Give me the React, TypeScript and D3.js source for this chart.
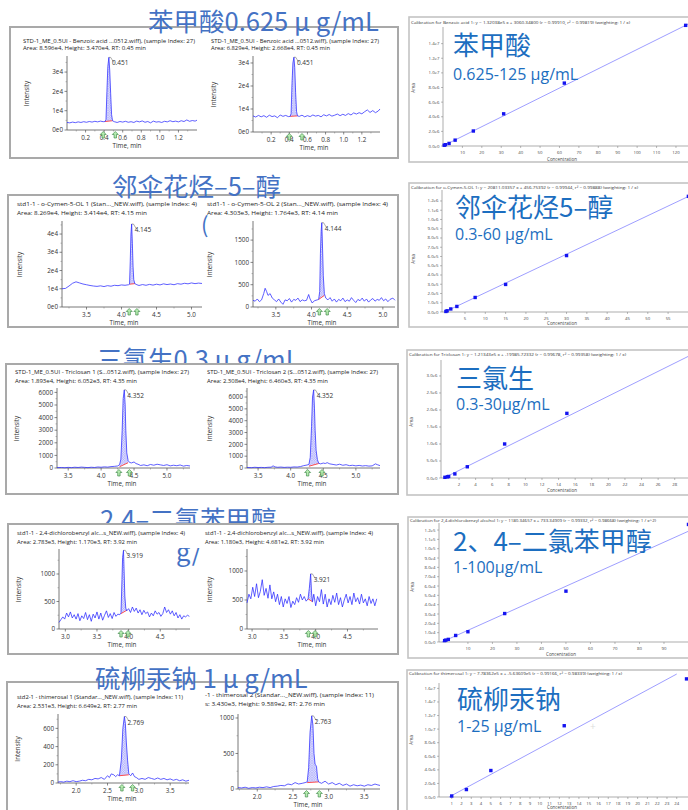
import React from "react";
import * as d3 from "d3";

type Pt = [number, number];

// ---------------- Text content ----------------
const leftTitles = ["苯甲酸0.625 μ g/mL", "邻伞花烃–5–醇", "三氯生0.3 μ g/mL", "2.4–二氯苯甲醇", "硫柳汞钠 1 μ g/mL"];
const calNames = ["苯甲酸", "邻伞花烃5–醇", "三氯生", "2、4–二氯苯甲醇", "硫柳汞钠"];
const calRanges = ["0.625-125 μg/mL", "0.3-60 μg/mL", "0.3-30μg/mL", "1-100μg/mL", "1-25 μg/mL"];

const chromHeader1 = [
  "STD-1_ME_0.5UI - Benzoic acid ...0512.wiff), (sample Index: 27)",
  "STD-1_ME_0.5UI - Benzoic acid ...0512.wiff), (sample Index: 27)",
  "std1-1 - o-Cymen-5-OL 1 (Stan..._NEW.wiff), (sample Index: 4)",
  "std1-1 - o-Cymen-5-OL 2 (Stan..._NEW.wiff), (sample Index: 4)",
  "STD-1_ME_0.5UI - Triclosan 1 (S...0512.wiff), (sample Index: 27)",
  "STD-1_ME_0.5UI - Triclosan 2 (S...0512.wiff), (sample Index: 27)",
  "std1-1 - 2,4-dichlorobenzyl alc...s_NEW.wiff), (sample Index: 4)",
  "std1-1 - 2,4-dichlorobenzyl alc...s_NEW.wiff), (sample Index: 4)",
  "std2-1 - thimerosal 1 (Standar..._NEW.wiff), (sample Index: 11)",
  "-1 - thimerosal 2 (Standar..._NEW.wiff), (sample Index: 11)",
];
const chromHeader2 = [
  "Area: 8.596e4, Height: 3.470e4, RT: 0.45 min",
  "Area: 6.829e4, Height: 2.668e4, RT: 0.45 min",
  "Area: 8.269e4, Height: 3.414e4, RT: 4.15 min",
  "Area: 4.303e3, Height: 1.764e3, RT: 4.14 min",
  "Area: 1.893e4, Height: 6.052e3, RT: 4.35 min",
  "Area: 2.308e4, Height: 6.460e3, RT: 4.35 min",
  "Area: 2.783e3, Height: 1.170e3, RT: 3.92 min",
  "Area: 1.180e3, Height: 4.681e2, RT: 3.92 min",
  "Area: 2.531e3, Height: 6.649e2, RT: 2.77 min",
  "s: 3.430e3, Height: 9.589e2, RT: 2.76 min",
];
const peakLabels = ["0.451", "0.451", "4.145", "4.144", "4.352", "4.352", "3.919", "3.921", "2.769", "2.763"];

const calHeaders = [
  "Calibration for Benzoic acid 1: y = 1.32038e5 x + 3060.34800 (r = 0.99910, r² = 0.99819)  (weighting: 1 / x)",
  "Calibration for o-Cymen-5-OL 1: y = 20811.03357 x + 456.75392 (r = 0.99944, r² = 0.99888)  (weighting: 1 / x)",
  "Calibration for Triclosan 1: y = 1.21343e5 x + -19985.72332 (r = 0.99678, r² = 0.99358)  (weighting: 1 / x)",
  "Calibration for 2,4-dichlorobenzyl alcohol 1: y = 1180.34657 x + 733.34909 (r = 0.99332, r² = 0.98668)  (weighting: 1 / x^2)",
  "Calibration for thimerosal 1: y = 7.78362e5 x + -5.63609e5 (r = 0.99166, r² = 0.98339)  (weighting: 1 / x)",
];

// ---------------- Chromatogram data (time, intensity) ----------------
const benzoicChrom1: Pt[] = [[0.00,3900],[0.03,3700],[0.06,4100],[0.09,3800],[0.12,4200],[0.15,3900],[0.18,4300],[0.21,4000],[0.24,4400],[0.27,4100],[0.30,4500],[0.33,4200],[0.36,4600],[0.39,4300],[0.41,4400],[0.42,5500],[0.43,20000],[0.44,33000],[0.451,37600],[0.46,31000],[0.47,19000],[0.48,8000],[0.49,4800],[0.51,4300],[0.54,3900],[0.57,4400],[0.60,4100],[0.63,4500],[0.66,4000],[0.69,4300],[0.72,3900],[0.75,4600],[0.78,4200],[0.81,4700],[0.84,4000],[0.87,4400],[0.90,3700],[0.93,4600],[0.96,4100],[0.99,4300],[1.02,3900],[1.05,4500],[1.08,4200],[1.11,4800],[1.14,4300],[1.17,4600],[1.20,4200],[1.23,4800],[1.26,4400],[1.29,5200],[1.32,4500],[1.35,4900],[1.38,4600],[1.40,5100]];
const benzoicChrom2: Pt[] = [[0.00,7000],[0.03,6500],[0.06,7200],[0.09,6600],[0.12,7100],[0.15,6400],[0.18,7300],[0.21,6700],[0.24,7000],[0.27,6200],[0.30,7400],[0.33,6800],[0.36,7200],[0.39,6700],[0.41,6800],[0.42,8000],[0.43,21000],[0.44,30000],[0.451,32500],[0.46,28000],[0.47,17000],[0.48,9000],[0.49,7000],[0.51,6800],[0.54,7300],[0.57,6600],[0.60,7100],[0.63,6700],[0.66,7400],[0.69,6900],[0.72,7200],[0.75,6600],[0.78,7500],[0.81,7000],[0.84,7600],[0.87,6900],[0.90,7300],[0.93,7800],[0.96,7100],[0.99,7700],[1.02,7200],[1.05,8000],[1.08,7400],[1.11,8300],[1.14,7800],[1.17,8400],[1.20,7900],[1.23,8800],[1.26,9600],[1.29,8500],[1.32,9300],[1.35,8400],[1.38,9100],[1.40,10000]];
const cymenolChrom1: Pt[] = [[3.15,10000],[3.20,10200],[3.25,11500],[3.30,13000],[3.35,13800],[3.40,13200],[3.45,12600],[3.50,12200],[3.55,11800],[3.60,11500],[3.65,11300],[3.70,11600],[3.75,11200],[3.80,11700],[3.85,11400],[3.90,11900],[3.95,11700],[4.00,12100],[4.05,11900],[4.10,12200],[4.115,12500],[4.125,25000],[4.135,40000],[4.145,45500],[4.155,35000],[4.165,22000],[4.175,15000],[4.19,12800],[4.22,12200],[4.25,11800],[4.30,12300],[4.35,11900],[4.40,12400],[4.45,12000],[4.50,12500],[4.55,12100],[4.60,12700],[4.65,12300],[4.70,12600],[4.75,12200],[4.80,12800],[4.85,12500],[4.90,13000],[4.95,12700],[5.00,13200],[5.05,12800],[5.10,13100],[5.15,12900]];
const cymenolChrom2: Pt[] = [[3.18,150],[3.21,130],[3.24,180],[3.27,120],[3.30,160],[3.33,300],[3.35,420],[3.37,350],[3.39,260],[3.42,300],[3.45,200],[3.48,160],[3.51,120],[3.54,180],[3.57,110],[3.60,60],[3.63,160],[3.66,140],[3.69,190],[3.72,110],[3.75,170],[3.78,150],[3.81,200],[3.84,120],[3.87,160],[3.90,140],[3.93,150],[3.96,280],[3.98,180],[4.01,90],[4.04,140],[4.08,160],[4.10,170],[4.115,350],[4.125,1200],[4.135,1700],[4.144,1890],[4.155,1300],[4.165,700],[4.18,300],[4.20,200],[4.23,160],[4.26,210],[4.29,130],[4.32,180],[4.35,110],[4.38,170],[4.41,140],[4.44,200],[4.47,120],[4.50,160],[4.53,130],[4.56,210],[4.59,150],[4.62,100],[4.65,170],[4.68,140],[4.71,200],[4.74,130],[4.77,180],[4.80,110],[4.83,160],[4.86,190],[4.89,130],[4.92,170],[4.95,150],[4.98,210],[5.01,140],[5.04,180],[5.07,120],[5.10,170],[5.14,200],[5.17,150]];
const triclosanChrom1: Pt[] = [[3.33,30],[3.40,40],[3.45,20],[3.50,50],[3.55,30],[3.60,60],[3.65,40],[3.70,70],[3.75,50],[3.80,30],[3.85,60],[3.90,40],[3.95,80],[4.00,60],[4.05,90],[4.10,70],[4.15,110],[4.20,130],[4.25,160],[4.28,250],[4.30,700],[4.32,3000],[4.335,5500],[4.352,6200],[4.365,5000],[4.375,3000],[4.39,1200],[4.41,600],[4.43,450],[4.46,400],[4.50,480],[4.53,350],[4.56,300],[4.60,200],[4.65,250],[4.70,180],[4.75,280],[4.80,220],[4.85,300],[4.90,250],[4.95,200],[5.00,260],[5.05,170],[5.10,220],[5.15,180],[5.20,240],[5.25,150],[5.30,200],[5.35,160]];
const triclosanChrom2: Pt[] = [[3.33,40],[3.40,30],[3.45,60],[3.50,40],[3.55,50],[3.60,30],[3.65,60],[3.70,70],[3.73,180],[3.76,90],[3.80,60],[3.85,80],[3.90,50],[3.95,70],[4.00,60],[4.05,90],[4.10,80],[4.15,120],[4.20,200],[4.25,250],[4.28,300],[4.30,900],[4.32,3500],[4.335,6000],[4.352,6600],[4.365,5000],[4.375,3200],[4.39,1500],[4.41,700],[4.43,400],[4.46,350],[4.50,420],[4.53,380],[4.56,450],[4.60,350],[4.65,300],[4.70,250],[4.75,320],[4.80,230],[4.85,280],[4.90,200],[4.95,230],[5.00,180],[5.05,220],[5.10,170],[5.15,200],[5.20,160],[5.25,180],[5.30,350],[5.33,280],[5.37,200]];
const dcbaChrom1: Pt[] = [[2.90,120],[2.93,170],[2.96,220],[2.99,180],[3.02,290],[3.05,220],[3.08,310],[3.11,200],[3.14,260],[3.17,180],[3.20,280],[3.23,150],[3.26,240],[3.29,190],[3.32,300],[3.35,170],[3.38,260],[3.41,140],[3.44,270],[3.47,200],[3.50,310],[3.53,180],[3.56,290],[3.59,160],[3.62,250],[3.65,330],[3.68,210],[3.71,280],[3.74,190],[3.77,300],[3.80,230],[3.83,270],[3.86,260],[3.88,300],[3.895,900],[3.905,1300],[3.919,1430],[3.93,1000],[3.94,600],[3.955,380],[3.97,330],[4.00,370],[4.03,300],[4.06,400],[4.09,320],[4.12,380],[4.15,290],[4.18,350],[4.21,260],[4.24,340],[4.27,280],[4.30,310],[4.33,220],[4.36,290],[4.39,240],[4.42,330],[4.45,270],[4.48,300],[4.51,230],[4.54,280],[4.57,400],[4.60,300],[4.63,350],[4.66,270],[4.69,330],[4.72,240],[4.75,300],[4.78,200],[4.81,260],[4.84,180],[4.87,240],[4.90,220],[4.93,250],[4.96,230]];
const dcbaChrom2: Pt[] = [[2.92,450],[2.95,600],[2.98,520],[3.01,720],[3.04,560],[3.07,780],[3.10,540],[3.13,650],[3.16,850],[3.19,580],[3.22,700],[3.25,530],[3.28,760],[3.31,520],[3.34,640],[3.37,470],[3.40,600],[3.43,420],[3.46,560],[3.49,380],[3.52,520],[3.55,440],[3.58,560],[3.61,370],[3.64,480],[3.67,420],[3.70,540],[3.73,460],[3.76,600],[3.79,500],[3.82,560],[3.85,480],[3.88,520],[3.90,700],[3.921,950],[3.935,620],[3.95,470],[3.97,600],[4.00,400],[4.03,560],[4.06,470],[4.09,680],[4.12,430],[4.15,600],[4.18,380],[4.21,520],[4.24,420],[4.27,580],[4.30,460],[4.33,620],[4.36,420],[4.39,540],[4.42,380],[4.45,500],[4.48,600],[4.51,450],[4.54,560],[4.57,420],[4.60,620],[4.63,470],[4.66,540],[4.69,430],[4.72,600],[4.75,450],[4.78,520],[4.81,400],[4.84,560],[4.87,440],[4.90,520],[4.93,400],[4.96,520]];
const thimerosalChrom1: Pt[] = [[1.71,10],[1.75,15],[1.80,10],[1.85,20],[1.90,15],[1.95,25],[2.00,15],[2.05,20],[2.10,30],[2.15,25],[2.20,40],[2.25,35],[2.30,50],[2.35,45],[2.40,60],[2.45,40],[2.50,80],[2.53,60],[2.56,100],[2.60,90],[2.63,70],[2.66,90],[2.69,80],[2.72,250],[2.745,600],[2.769,730],[2.785,650],[2.80,450],[2.82,250],[2.84,100],[2.87,80],[2.90,110],[2.93,70],[2.96,60],[3.00,40],[3.05,50],[3.10,40],[3.15,60],[3.20,50],[3.25,40],[3.30,55],[3.35,40],[3.40,50],[3.45,35],[3.50,45],[3.55,30],[3.60,40],[3.65,25],[3.70,35],[3.75,20],[3.80,30]];
const thimerosalChrom2: Pt[] = [[1.73,20],[1.78,15],[1.83,25],[1.88,10],[1.93,20],[1.98,15],[2.03,25],[2.08,20],[2.13,30],[2.18,20],[2.23,35],[2.28,40],[2.33,50],[2.38,45],[2.43,70],[2.48,60],[2.53,90],[2.58,70],[2.63,80],[2.67,90],[2.70,100],[2.72,300],[2.74,800],[2.763,1030],[2.78,900],[2.795,500],[2.81,350],[2.83,320],[2.845,150],[2.86,100],[2.90,80],[2.95,110],[3.00,70],[3.05,90],[3.10,60],[3.15,80],[3.20,50],[3.25,70],[3.30,40],[3.35,60],[3.40,45],[3.45,55],[3.50,40],[3.55,60],[3.60,50],[3.65,70],[3.68,60],[3.72,50]];

// ---------------- Calibration data ----------------
const benzoicConc = [0.625, 1.25, 3.125, 6.25, 15.625, 31.25, 62.5, 125];
const benzoicArea = [1.0e5, 1.8e5, 3.5e5, 8.0e5, 2.05e6, 4.4e6, 8.6e6, 1.65e7];
const cymenolConc = [0.3, 0.6, 1.5, 3, 7.5, 15, 30, 60];
const cymenolArea = [6.0e3, 1.3e4, 3.3e4, 6.0e4, 1.57e5, 2.98e5, 6.1e5, 1.25e6];
const triclosanConc = [0.3, 0.6, 0.75, 1.5, 3, 7.5, 15, 30];
const triclosanArea = [2.0e4, 3.5e4, 4.5e4, 1.2e5, 3.3e5, 1.0e6, 1.9e6, 3.6e6];
const dcbaConc = [0.5, 1, 2, 5, 10, 25, 50, 100];
const dcbaArea = [1.5e3, 2.0e3, 2.8e3, 7.0e3, 1.1e4, 3.05e4, 5.45e4, 1.26e5];
const thimerosalConc = [1, 2.5, 5, 12.5, 25];
const thimerosalArea = [1.5e5, 1.1e6, 3.9e6, 1.05e7, 1.74e7];
const calSlopes = [1.32038e5, 20811.03357, 1.21343e5, 1180.34657, 7.78362e5];
const calIntercepts = [3060.348, 456.75392, -19985.72332, 733.34909, -5.63609e5];

// ---------------- Styles ----------------
const W = 688, H = 810;
const SANS = "'Open Sans', 'DejaVu Sans', sans-serif";
const CJK = "'Noto Sans CJK SC', 'Noto Sans', sans-serif";
const TITLE_BLUE = "#4472c4";
const OVER_BLUE = "#1c6ec0";

const fmtE = (v: number) => {
  if (v === 0) return "0e0";
  const e = Math.floor(Math.log10(v));
  return `${Math.round(v / Math.pow(10, e))}e${e}`;
};
const fmtInt = (v: number) => String(v);
const fmtCal = (v: number) => d3.format(".1e")(v).replace("+", "");

interface ChromCfg {
  data: Pt[];
  idx: number;
  hx: number; hy1: number; hy2: number; hw1: number; hw2: number;
  x0: number; x1: number; yTop: number; yBot: number;
  xDomain: [number, number]; yDomain: [number, number];
  yTicks: number[]; xTicks: number[]; yFmt: (v: number) => string;
  xLabelX: number; yLabelX?: number;
  intStart: number; intEnd: number; baseStart: number; baseEnd: number;
  arrows: number[];
}

const chromCfgs: ChromCfg[] = [
  { data: benzoicChrom1, idx: 0, hx: 23, hy1: 43, hy2: 50, hw1: 172, hw2: 123, x0: 67, x1: 197, yTop: 57, yBot: 130,
    xDomain: [0, 1.4], yDomain: [0, 37800], yTicks: [0, 1e4, 2e4, 3e4], xTicks: [0.2, 0.4, 0.6, 0.8, 1.0, 1.2], yFmt: fmtE,
    xLabelX: 127, yLabelX: 29, intStart: 0.41, intEnd: 0.49, baseStart: 4400, baseEnd: 4800, arrows: [0.39, 0.52] },
  { data: benzoicChrom2, idx: 1, hx: 211, hy1: 43, hy2: 50, hw1: 168, hw2: 119, x0: 253, x1: 380, yTop: 57, yBot: 132,
    xDomain: [0, 1.4], yDomain: [0, 32600], yTicks: [0, 1e4, 2e4, 3e4], xTicks: [0.2, 0.4, 0.6, 0.8, 1.0, 1.2], yFmt: fmtE,
    xLabelX: 314, yLabelX: 216, intStart: 0.41, intEnd: 0.49, baseStart: 6800, baseEnd: 7000, arrows: [0.40, 0.54] },
  { data: cymenolChrom1, idx: 2, hx: 17, hy1: 206, hy2: 215, hw1: 180, hw2: 130, x0: 62, x1: 202, yTop: 222, yBot: 307,
    xDomain: [3.15, 5.15], yDomain: [0, 46600], yTicks: [0, 1e4, 2e4, 3e4, 4e4], xTicks: [3.5, 4.0, 4.5, 5.0], yFmt: fmtE,
    xLabelX: 124, yLabelX: 22, intStart: 4.115, intEnd: 4.19, baseStart: 12500, baseEnd: 12800, arrows: [4.11, 4.22] },
  { data: cymenolChrom2, idx: 3, hx: 207, hy1: 206, hy2: 215, hw1: 181, hw2: 131, x0: 253, x1: 395, yTop: 222, yBot: 307,
    xDomain: [3.18, 5.17], yDomain: [0, 1906], yTicks: [0, 500, 1000, 1500], xTicks: [3.5, 4.0, 4.5, 5.0], yFmt: fmtInt,
    xLabelX: 322, yLabelX: 212, intStart: 4.10, intEnd: 4.18, baseStart: 170, baseEnd: 260, arrows: [4.11, 4.22] },
  { data: triclosanChrom1, idx: 4, hx: 15, hy1: 374, hy2: 382.5, hw1: 174, hw2: 122, x0: 57, x1: 190, yTop: 389, yBot: 468,
    xDomain: [3.33, 5.35], yDomain: [0, 6270], yTicks: [0, 1000, 2000, 3000, 4000, 5000, 6000], xTicks: [3.5, 4.0, 4.5, 5.0], yFmt: fmtInt,
    xLabelX: 122, yLabelX: 19, intStart: 4.28, intEnd: 4.41, baseStart: 100, baseEnd: 420, arrows: [4.27, 4.43] },
  { data: triclosanChrom2, idx: 5, hx: 207, hy1: 374, hy2: 382.5, hw1: 171, hw2: 121, x0: 247, x1: 380, yTop: 389, yBot: 468,
    xDomain: [3.33, 5.37], yDomain: [0, 6680], yTicks: [0, 1000, 2000, 3000, 4000, 5000, 6000], xTicks: [3.5, 4.0, 4.5, 5.0], yFmt: fmtInt,
    xLabelX: 312, yLabelX: 212, intStart: 4.28, intEnd: 4.43, baseStart: 150, baseEnd: 380, arrows: [4.26, 4.48] },
  { data: dcbaChrom1, idx: 6, hx: 17, hy1: 535, hy2: 543.5, hw1: 168, hw2: 120, x0: 59, x1: 190, yTop: 550, yBot: 629,
    xDomain: [2.9, 4.97], yDomain: [0, 1436], yTicks: [0, 500, 1000], xTicks: [3.0, 3.5, 4.0, 4.5], yFmt: fmtInt,
    xLabelX: 122, yLabelX: 21, intStart: 3.88, intEnd: 3.97, baseStart: 280, baseEnd: 340, arrows: [3.88, 3.99] },
  { data: dcbaChrom2, idx: 7, hx: 205, hy1: 535, hy2: 543.5, hw1: 168, hw2: 119, x0: 247, x1: 378, yTop: 550, yBot: 629,
    xDomain: [2.92, 4.98], yDomain: [0, 1362], yTicks: [0, 500, 1000], xTicks: [3.0, 3.5, 4.0, 4.5], yFmt: fmtInt,
    xLabelX: 312, yLabelX: 212, intStart: 3.88, intEnd: 3.95, baseStart: 520, baseEnd: 470, arrows: [3.885, 3.99] },
  { data: thimerosalChrom1, idx: 8, hx: 17, hy1: 699, hy2: 708, hw1: 166, hw2: 120, x0: 58, x1: 189, yTop: 715, yBot: 783,
    xDomain: [1.71, 3.8], yDomain: [0, 747], yTicks: [0, 200, 400, 600], xTicks: [2.0, 2.5, 3.0, 3.5], yFmt: fmtInt,
    xLabelX: 122, yLabelX: 20, intStart: 2.69, intEnd: 2.84, baseStart: 80, baseEnd: 90, arrows: [2.73, 2.90] },
  { data: thimerosalChrom2, idx: 9, hx: 205, hy1: 697, hy2: 706, hw1: 169, hw2: 120, x0: 238, x1: 380, yTop: 715, yBot: 789,
    xDomain: [1.73, 3.72], yDomain: [0, 1042], yTicks: [0, 500, 1000], xTicks: [2.0, 2.5, 3.0, 3.5], yFmt: fmtInt,
    xLabelX: 308, intStart: 2.70, intEnd: 2.86, baseStart: 90, baseEnd: 100, arrows: [2.69, 2.87] },
];

interface CalCfg {
  idx: number; conc: number[]; area: number[];
  box: [number, number, number, number];
  hx: number; hy: number; hw: number;
  x0: number; x1: number; yTop: number; yBot: number;
  xDomain: [number, number]; yDomain: [number, number];
  yTicks: number[]; xTicks: number[]; lineEnd: number;
  concX: number; concY: number; areaY: number;
  nameX: number; nameY: number; rangeY: number;
}

const calCfgs: CalCfg[] = [
  { idx: 0, conc: benzoicConc, area: benzoicArea, box: [409, 17, 290, 145], hx: 411, hy: 23.5, hw: 219,
    x0: 443, x1: 688, yTop: 29, yBot: 146, xDomain: [0, 126.2], yDomain: [0, 1.6e7],
    yTicks: d3.range(0, 1.41e7, 2e6), xTicks: d3.range(10, 121, 10), lineEnd: 126.2,
    concX: 562, concY: 161, areaY: 88, nameX: 453, nameY: 55, rangeY: 80 },
  { idx: 1, conc: cymenolConc, area: cymenolArea, box: [409, 183, 290, 144], hx: 411, hy: 188.5, hw: 227,
    x0: 442, x1: 688, yTop: 192, yBot: 312, xDomain: [-0.66, 59.9], yDomain: [0, 1.297e6],
    yTicks: d3.range(0, 1.21e6, 1e5), xTicks: d3.range(5, 56, 5), lineEnd: 59.9,
    concX: 562, concY: 325, areaY: 259, nameX: 455, nameY: 217, rangeY: 240 },
  { idx: 2, conc: triclosanConc, area: triclosanArea, box: [407, 350, 292, 145], hx: 409, hy: 356, hw: 217,
    x0: 441, x1: 688, yTop: 362, yBot: 478, xDomain: [-0.17, 29.6], yDomain: [0, 3.41e6],
    yTicks: d3.range(0, 3.01e6, 5e5), xTicks: d3.range(2, 29, 2), lineEnd: 29.6,
    concX: 562, concY: 492, areaY: 422, nameX: 456, nameY: 388, rangeY: 410 },
  { idx: 3, conc: dcbaConc, area: dcbaArea, box: [408, 517, 291, 141], hx: 410, hy: 522, hw: 246,
    x0: 439, x1: 688, yTop: 525, yBot: 642, xDomain: [-1.8, 99.8], yDomain: [0, 1.254e5],
    yTicks: d3.range(0, 1.21e5, 1e4), xTicks: d3.range(10, 91, 10), lineEnd: 99.8,
    concX: 561, concY: 656, areaY: 587, nameX: 453, nameY: 551, rangeY: 573 },
  { idx: 4, conc: thimerosalConc, area: thimerosalArea, box: [407, 670, 292, 160], hx: 409, hy: 675, hw: 213,
    x0: 439, x1: 688, yTop: 685, yBot: 797, xDomain: [-0.3, 25.15], yDomain: [0, 1.65e7],
    yTicks: d3.range(0, 1.61e7, 2e6), xTicks: d3.range(1, 25, 1), lineEnd: 24,
    concX: 562, concY: 809, areaY: 740, nameX: 457, nameY: 709, rangeY: 732 },
];

// ---------------- Components ----------------
function Chromatogram({ c }: { c: ChromCfg }) {
  const x = d3.scaleLinear().domain(c.xDomain).range([c.x0, c.x1]);
  const y = d3.scaleLinear().domain(c.yDomain).range([c.yBot, c.yTop]);
  const line = d3.line<Pt>().x(d => x(d[0])).y(d => y(d[1]));
  const base = (t: number) => c.baseStart + ((t - c.intStart) / (c.intEnd - c.intStart)) * (c.baseEnd - c.baseStart);
  const peak = c.data.filter(d => d[0] >= c.intStart - 1e-9 && d[0] <= c.intEnd + 1e-9);
  const area = d3.area<Pt>().x(d => x(d[0])).y0(d => y(base(d[0]))).y1(d => y(d[1]));
  const top = c.data.reduce((a, b) => (b[1] > a[1] ? b : a));
  const px = x(top[0]), py = y(top[1]);
  const midY = (c.yTop + c.yBot) / 2;
  const yStep = c.yTicks[1] - c.yTicks[0];
  const yMinor = d3.range(c.yTicks[0] + yStep / 2, c.yDomain[1], yStep);
  const xStep = c.xTicks[1] - c.xTicks[0];
  const xMinor = d3.range(c.xTicks[0] - xStep / 2, c.xDomain[1], xStep).filter(v => v > c.xDomain[0]);
  return (
    <g>
      <text x={c.hx} y={c.hy1} fontSize={6} fontFamily={SANS} fill="#222" textLength={c.hw1} lengthAdjust="spacingAndGlyphs">{chromHeader1[c.idx]}</text>
      <text x={c.hx} y={c.hy2} fontSize={6} fontFamily={SANS} fill="#222" textLength={c.hw2} lengthAdjust="spacingAndGlyphs">{chromHeader2[c.idx]}</text>
      {/* axes */}
      <line x1={c.x0} x2={c.x0} y1={c.yTop - 1} y2={c.yBot} stroke="#555" strokeWidth={0.8} />
      <line x1={c.x0} x2={c.x1} y1={c.yBot} y2={c.yBot} stroke="#555" strokeWidth={0.8} />
      {yMinor.map(v => (
        <line key={"ym" + v} x1={c.x0 - 1.5} x2={c.x0} y1={y(v)} y2={y(v)} stroke="#777" strokeWidth={0.5} />
      ))}
      {xMinor.map(v => (
        <line key={"xm" + v} x1={x(v)} x2={x(v)} y1={c.yBot} y2={c.yBot + 1.5} stroke="#777" strokeWidth={0.5} />
      ))}
      {c.yTicks.map(v => (
        <g key={"y" + v}>
          <line x1={c.x0 - 2.5} x2={c.x0} y1={y(v)} y2={y(v)} stroke="#555" strokeWidth={0.7} />
          <text x={c.x0 - 4} y={y(v) + 2.2} fontSize={6.3} fontFamily={SANS} fill="#333" textAnchor="end">{c.yFmt(v)}</text>
        </g>
      ))}
      {c.xTicks.map(v => (
        <g key={"x" + v}>
          <line x1={x(v)} x2={x(v)} y1={c.yBot} y2={c.yBot + 2.5} stroke="#555" strokeWidth={0.7} />
          <text x={x(v)} y={c.yBot + 9.5} fontSize={6.3} fontFamily={SANS} fill="#333" textAnchor="middle">{d3.format(".1f")(v)}</text>
        </g>
      ))}
      <text x={c.xLabelX} y={c.yBot + 18} fontSize={6.3} fontFamily={SANS} fill="#333" textAnchor="middle">Time, min</text>
      {c.yLabelX !== undefined && (
        <text transform={`translate(${c.yLabelX},${midY}) rotate(-90)`} fontSize={6.3} fontFamily={SANS} fill="#333" textAnchor="middle">Intensity</text>
      )}
      {/* integrated peak */}
      <path d={area(peak) || ""} fill="url(#hatch)" stroke="none" />
      <line x1={x(c.intStart)} x2={x(c.intEnd)} y1={y(c.baseStart)} y2={y(c.baseEnd)} stroke="#ff3b3b" strokeWidth={0.9} />
      <path d={line(c.data) || ""} fill="none" stroke="#2a2aff" strokeWidth={0.75} />
      {/* label */}
      <path d={`M${px},${py} q2,-1 3,2 q1,2 2,3`} fill="none" stroke="#555" strokeWidth={0.5} />
      <text x={px + 3} y={py + 8} fontSize={6.5} fontFamily={SANS} fill="#333">{peakLabels[c.idx]}</text>
      {/* arrows */}
      {c.arrows.map((t, i) => {
        const ax = x(t), ty = c.yBot + 1.5;
        return (
          <polygon key={i} points={`${ax},${ty} ${ax + 3},${ty + 3} ${ax + 1.2},${ty + 3} ${ax + 1.2},${ty + 6.5} ${ax - 1.2},${ty + 6.5} ${ax - 1.2},${ty + 3} ${ax - 3},${ty + 3}`}
            fill="#b6ecb0" stroke="#2f7d3a" strokeWidth={0.6} />
        );
      })}
    </g>
  );
}

function Calibration({ c }: { c: CalCfg }) {
  const x = d3.scaleLinear().domain(c.xDomain).range([c.x0, c.x1]);
  const y = d3.scaleLinear().domain(c.yDomain).range([c.yBot, c.yTop]);
  const m = calSlopes[c.idx], b = calIntercepts[c.idx];
  const lx0 = Math.max(c.xDomain[0], -b / m);
  const [bx, by, bw, bh] = c.box;
  return (
    <g>
      <rect x={bx} y={by} width={bw} height={bh} fill="#fff" stroke="#c4c4c4" strokeWidth={1.6} />
      <text x={c.hx} y={c.hy} fontSize={4.2} fontFamily={SANS} fill="#333" textLength={c.hw} lengthAdjust="spacingAndGlyphs">{calHeaders[c.idx]}</text>
      <line x1={c.x0} x2={c.x0} y1={c.yTop - 2} y2={c.yBot} stroke="#777" strokeWidth={0.6} />
      <line x1={c.x0} x2={c.x1} y1={c.yBot} y2={c.yBot} stroke="#777" strokeWidth={0.6} />
      {c.yTicks.map(v => (
        <g key={"y" + v}>
          <line x1={c.x0 - 2} x2={c.x0} y1={y(v)} y2={y(v)} stroke="#777" strokeWidth={0.5} />
          <text x={c.x0 - 3.5} y={y(v) + 1.5} fontSize={4.3} fontFamily={SANS} fill="#444" textAnchor="end">{fmtCal(v)}</text>
        </g>
      ))}
      {c.xTicks.map(v => (
        <g key={"x" + v}>
          <line x1={x(v)} x2={x(v)} y1={c.yBot} y2={c.yBot + 2} stroke="#777" strokeWidth={0.5} />
          <text x={x(v)} y={c.yBot + 7.5} fontSize={4.3} fontFamily={SANS} fill="#444" textAnchor="middle">{String(v)}</text>
        </g>
      ))}
      <text x={c.concX} y={c.concY} fontSize={4.5} fontFamily={SANS} fill="#444" textAnchor="middle">Concentration</text>
      <text transform={`translate(${bx + 6},${c.areaY}) rotate(-90)`} fontSize={4.5} fontFamily={SANS} fill="#444" textAnchor="middle">Area</text>
      <line x1={x(lx0)} y1={y(m * lx0 + b)} x2={x(c.lineEnd)} y2={y(m * c.lineEnd + b)} stroke="#8585ff" strokeWidth={0.8} />
      {c.conc.map((cv, i) => (
        <rect key={i} x={x(cv) - 1.7} y={y(c.area[i]) - 1.7} width={3.4} height={3.4} fill="#1414f0" />
      ))}
      <text x={c.nameX} y={c.nameY} fontSize={26} fontFamily={CJK} fill={OVER_BLUE}>{calNames[c.idx]}</text>
      <text x={c.nameX} y={c.rangeY} fontSize={16} fontFamily={SANS} fill={OVER_BLUE}>{calRanges[c.idx]}</text>
    </g>
  );
}

const leftBoxes: [number, number, number, number][] = [
  [10, 27, 388, 131],
  [8, 195, 390, 132],
  [6, 364, 392, 130],
  [8, 524, 390, 130],
  [7, 682, 391, 140],
];
const titlePos: [number, number][] = [[148, 31], [112, 195.5], [97, 369], [100, 529], [95, 688]];
const titleOnTop = [true, true, false, false, true];

export default function App() {
  return (
    <svg width={W} height={H} viewBox={`0 0 ${W} ${H}`} style={{ position: "absolute", left: 0, top: 0, background: "#fff" }}>
      <defs>
        <pattern id="hatch" width={2.4} height={2.4} patternUnits="userSpaceOnUse">
          <rect width={2.4} height={2.4} fill="#e2e2ff" />
          <path d="M0,0 L2.4,2.4 M2.4,0 L0,2.4" stroke="#7a7af5" strokeWidth={0.3} />
        </pattern>
        <clipPath id="fragClip">
          <rect x={170} y={548} width={37} height={22} />
        </clipPath>
      </defs>
      <rect x={0} y={0} width={W} height={H} fill="#fff" />
      {leftTitles.map((t, i) => !titleOnTop[i] && (
        <text key={"tb" + i} x={titlePos[i][0]} y={titlePos[i][1]} fontSize={25.5} fontFamily={CJK} fill={TITLE_BLUE}>{t}</text>
      ))}
      {leftBoxes.map((b, i) => (
        <rect key={"lb" + i} x={b[0]} y={b[1]} width={b[2]} height={b[3]} fill="#fff" stroke="#a9a9a9" strokeWidth={2} />
      ))}
      {chromCfgs.map((c, i) => <Chromatogram key={"c" + i} c={c} />)}
      {calCfgs.map((c, i) => <Calibration key={"k" + i} c={c} />)}
      {leftTitles.map((t, i) => titleOnTop[i] && (
        <text key={"tt" + i} x={titlePos[i][0]} y={titlePos[i][1]} fontSize={25.5} fontFamily={CJK} fill={TITLE_BLUE}>{t}</text>
      ))}
      <text x={201} y={233} fontSize={22} fontFamily={CJK} fill={TITLE_BLUE}>(</text>
      <g clipPath="url(#fragClip)">
        <text x={176} y={561} fontSize={25.5} fontFamily={CJK} fill={TITLE_BLUE}>g/</text>
      </g>
      <text x={590} y={730} fontSize={10} fontFamily={SANS} fill="#dddddd">+</text>
    </svg>
  );
}
